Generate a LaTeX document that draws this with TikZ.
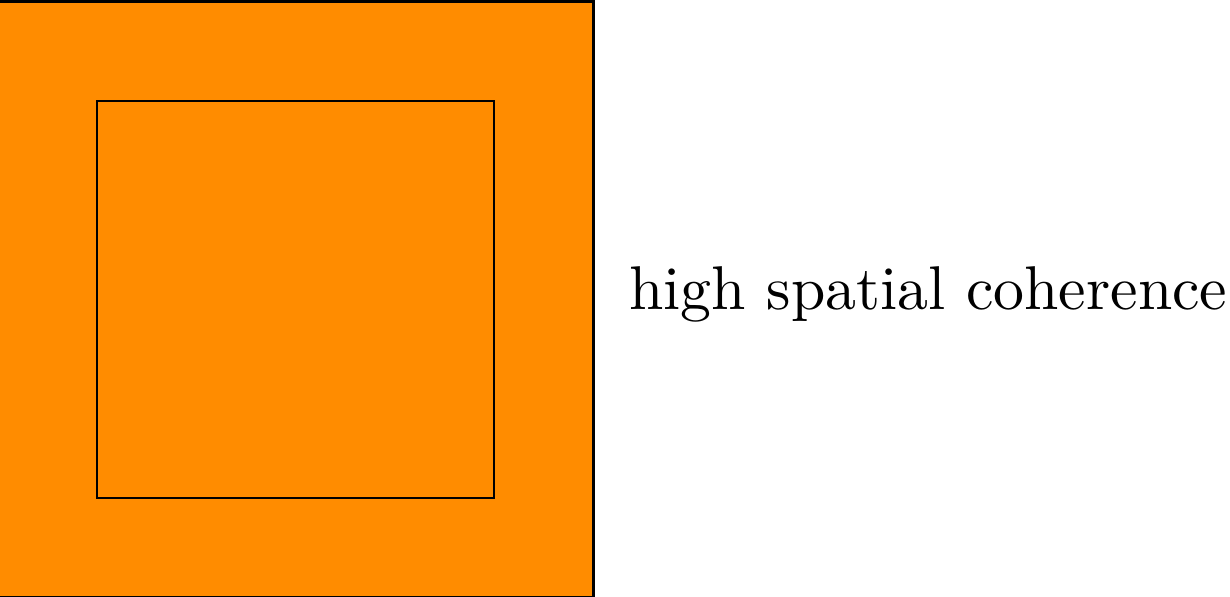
\documentclass[tikz,border=0pt]{standalone}
\usepackage{graphicx}
\definecolor{dorange}{RGB}{255,140,0}
\begin{document}
\begin{tikzpicture}[x=0.5pt,y=-0.5pt,
  sq/.style={draw=black,fill=dorange,line width=1.3pt}]
\useasboundingbox (0,0) rectangle (1230,597);
\path[sq] (-2,1.5) rectangle (593.5,597.5);
\path[sq] (97,101) rectangle (494,498);
\node[anchor=base west,inner sep=0pt] (t) at (629,310) {\scalebox{3.09}{high spatial coherence}};
\end{tikzpicture}
\end{document}
